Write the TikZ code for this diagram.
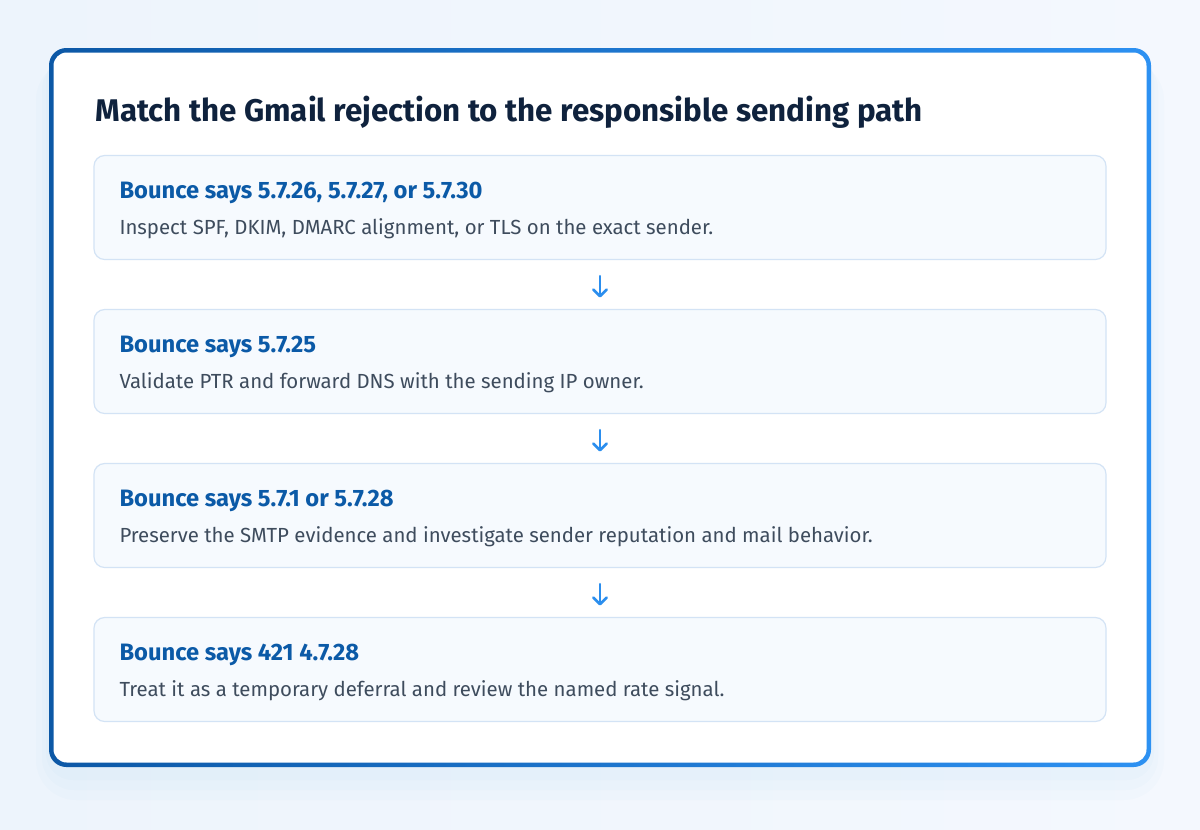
\documentclass[tikz,border=0pt]{standalone}
\usepackage{fontspec}
\setmainfont{Fira Sans}
\usetikzlibrary{arrows.meta}

\definecolor{pagebg}{HTML}{EDF4FC}
\definecolor{pagebgb}{HTML}{F4F8FE}
\definecolor{framedark}{HTML}{0C58A6}
\definecolor{framelight}{HTML}{2D91F2}
\definecolor{titleink}{HTML}{0F223D}
\definecolor{headink}{HTML}{0B5AA7}
\definecolor{bodyink}{HTML}{3E4C5D}
\definecolor{stepfill}{HTML}{F6FAFE}
\definecolor{stepline}{HTML}{D3E3F5}
\definecolor{arrowink}{HTML}{2B8EEE}

\tikzset{every picture/.style={line width=0.75pt}}
\tikzset{
  stepbox/.style={draw=stepline, fill=stepfill, line width=0.9pt, rounded corners=8pt,
    minimum width=759pt, minimum height=78pt, inner sep=0pt},
  headtext/.style={anchor=base west, inner sep=0pt, text=headink,
    font=\fontsize{17.8}{21}\selectfont\bfseries},
  bodytext/.style={anchor=base west, inner sep=0pt, text=bodyink,
    font=\fontsize{15.3}{18}\selectfont},
  flow/.style={draw=arrowink, line width=2pt, line cap=round, shorten <=12pt, shorten >=8.5pt,
    -{Straight Barb[length=5pt,width=10pt,line width=2pt,round]}}
}

\begin{document}
\begin{tikzpicture}[x=0.75pt,y=0.75pt,yscale=-1,xscale=1]
% page background
\shade [left color=pagebg, right color=pagebgb] (0,0) rectangle (1200,829);
\useasboundingbox (0,0) rectangle (1200,829);

% soft shadow under the card
\fill [framelight, opacity=0.015, rounded corners=30pt] (36,60) rectangle (1164,800);
\fill [framelight, opacity=0.02, rounded corners=24pt] (42,58) rectangle (1158,790);
\fill [framelight, opacity=0.02, rounded corners=20pt] (46,54) rectangle (1154,780);

% card with gradient border
\shade [rounded corners=13pt, shading angle=135, left color=framedark, right color=framelight]
  (49,48) rectangle (1151,767);
\fill [white, rounded corners=10pt] (53.5,52.5) rectangle (1146.5,762.5);

% Title
\node (title) [anchor=base west, inner sep=0pt, text=titleink,
  font=\fontsize{23.5}{28}\selectfont\bfseries] at (95,121) {Match the Gmail rejection to the responsible sending path};

% Step boxes
\node (b1) [stepbox] at (600,207.5) {};
\node (b2) [stepbox] at (600,361.5) {};
\node (b3) [stepbox] at (600,515.5) {};
\node (b4) [stepbox] at (600,669.5) {};

% Text Node
\node (h1) [headtext] at (119,198) {Bounce says 5.7.26, 5.7.27, or 5.7.30};
\node (t1) [bodytext] at (119,234) {Inspect SPF, DKIM, DMARC alignment, or TLS on the exact sender.};
% Text Node
\node (h2) [headtext] at (119,352) {Bounce says 5.7.25};
\node (t2) [bodytext] at (119,388) {Validate PTR and forward DNS with the sending IP owner.};
% Text Node
\node (h3) [headtext] at (119,506) {Bounce says 5.7.1 or 5.7.28};
\node (t3) [bodytext] at (119,542) {Preserve the SMTP evidence and investigate sender reputation and mail behavior.};
% Text Node
\node (h4) [headtext] at (119,660) {Bounce says 421 4.7.28};
\node (t4) [bodytext] at (119,696) {Treat it as a temporary deferral and review the named rate signal.};

% Arrows between steps
\draw [flow] (b1) -- (b2);
\draw [flow] (b2) -- (b3);
\draw [flow] (b3) -- (b4);

\end{tikzpicture}
\end{document}
